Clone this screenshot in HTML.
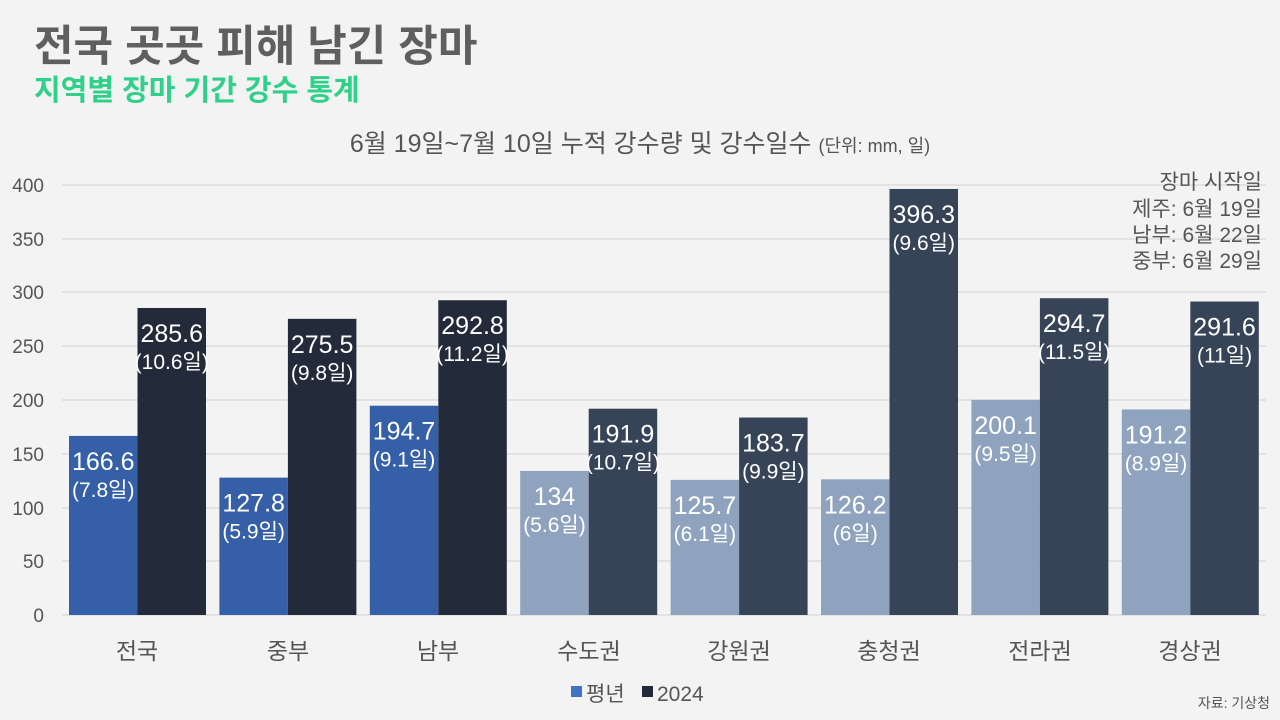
<!DOCTYPE html>
<html><head><meta charset="utf-8"><style>
body{margin:0;background:#f3f3f3;}
svg{display:block;font-family:"Liberation Sans","Noto Sans CJK KR",sans-serif;}
</style></head><body>
<svg width="1280" height="720" viewBox="0 0 1280 720">
<rect width="1280" height="720" fill="#f3f3f3"/>
<text x="34" y="61" font-size="43" font-weight="bold" fill="#5f5f5f">전국 곳곳 피해 남긴 장마</text>
<text x="34" y="100" font-size="29" font-weight="bold" fill="#2fd08a">지역별 장마 기간 강수 통계</text>
<text x="640" y="152" font-size="25" fill="#555" text-anchor="middle">6월 19일~7월 10일 누적 강수량 및 강수일수 <tspan font-size="18">(단위: mm, 일)</tspan></text>
<g stroke="#dcdcdc" stroke-width="1.5">
<line x1="62" x2="1266" y1="185" y2="185"/><line x1="62" x2="1266" y1="239" y2="239"/>
<line x1="62" x2="1266" y1="292" y2="292"/><line x1="62" x2="1266" y1="346" y2="346"/>
<line x1="62" x2="1266" y1="400" y2="400"/><line x1="62" x2="1266" y1="454" y2="454"/>
<line x1="62" x2="1266" y1="508" y2="508"/><line x1="62" x2="1266" y1="561" y2="561"/>
<line x1="62" x2="1266" y1="615" y2="615"/>
</g>
<g font-size="19" fill="#555" text-anchor="end">
<text x="44" y="192">400</text><text x="44" y="246">350</text><text x="44" y="299">300</text>
<text x="44" y="353">250</text><text x="44" y="407">200</text><text x="44" y="461">150</text>
<text x="44" y="515">100</text><text x="44" y="568">50</text><text x="44" y="622">0</text>
</g>
<g id="bars"></g>
<g font-size="23" fill="#555" text-anchor="middle">
<text x="137" y="659">전국</text><text x="288" y="659">중부</text><text x="438" y="659">남부</text>
<text x="589" y="659">수도권</text><text x="739" y="659">강원권</text><text x="889" y="659">충청권</text>
<text x="1040" y="659">전라권</text><text x="1190" y="659">경상권</text>
</g>
<g font-size="21" fill="#555" text-anchor="end">
<text x="1262" y="189">장마 시작일</text><text x="1262" y="216">제주: 6월 19일</text>
<text x="1262" y="242">남부: 6월 22일</text><text x="1262" y="268">중부: 6월 29일</text>
</g>
<rect x="571" y="686" width="11" height="11" fill="#4472c4"/>
<text x="586" y="701" font-size="21" fill="#555">평년</text>
<rect x="642" y="686" width="11" height="11" fill="#232b3a"/>
<text x="657" y="701" font-size="21" fill="#555">2024</text>
<text x="1270" y="708" font-size="14" fill="#555" text-anchor="end">자료: 기상청</text>
</svg>
<script>
var d=[["166.6","7.8",166.6,"285.6","10.6",285.6,1],["127.8","5.9",127.8,"275.5","9.8",275.5,1],["194.7","9.1",194.7,"292.8","11.2",292.8,1],
["134","5.6",134,"191.9","10.7",191.9,0],["125.7","6.1",125.7,"183.7","9.9",183.7,0],["126.2","6",126.2,"396.3","9.6",396.3,0],
["200.1","9.5",200.1,"294.7","11.5",294.7,0],["191.2","8.9",191.2,"291.6","11",291.6,0]];
var s="";
d.forEach(function(r,i){
 var x=69+i*150.4,w=68.5;
 var c1=r[6]?"#355fa6":"#8fa3bf",c2=r[6]?"#232b3a":"#374458";
 [[x,r[2],c1,r[0],r[1]],[x+w,r[5],c2,r[3],r[4]]].forEach(function(b){
  var t=615-b[1]*1.075;
  s+='<rect x="'+b[0]+'" y="'+t+'" width="'+w+'" height="'+(615-t)+'" fill="'+b[2]+'"/>';
  s+='<text x="'+(b[0]+w/2)+'" y="'+(t+34)+'" font-size="25" fill="#fff" text-anchor="middle">'+b[3]+'</text>';
  s+='<text x="'+(b[0]+w/2)+'" y="'+(t+61)+'" font-size="21" fill="#fff" text-anchor="middle">('+b[4]+'일)</text>';
 });
});
document.getElementById("bars").innerHTML=s;
</script>
</body></html>
